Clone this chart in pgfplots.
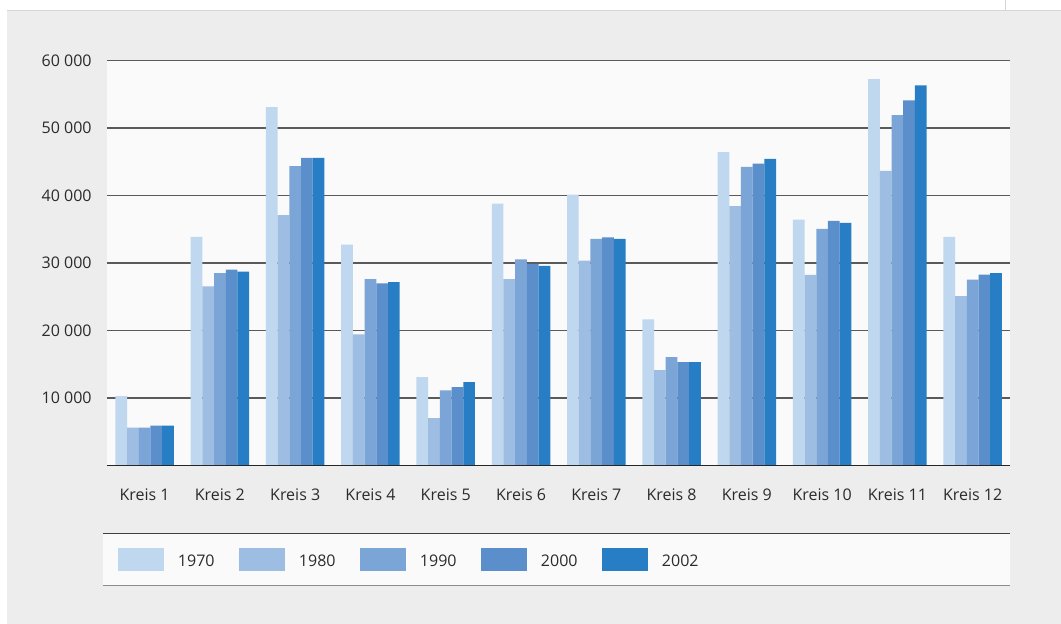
\documentclass[border=0pt]{standalone}
\usepackage{pgfplots}
\pgfplotsset{compat=1.18}
\usepackage{fontspec}
\setmainfont{Open Sans}
\definecolor{panel}{HTML}{EDEDED}
\definecolor{plotbg}{HTML}{FAFAFA}
\definecolor{topline}{HTML}{D6D6D6}
\definecolor{gridc}{HTML}{5A5A5A}
\definecolor{textc}{HTML}{2B2B2B}
\definecolor{c1970}{HTML}{BFD7EF}
\definecolor{c1980}{HTML}{9DBDE2}
\definecolor{c1990}{HTML}{7BA5D7}
\definecolor{c2000}{HTML}{5B8FCC}
\definecolor{c2002}{HTML}{277EC4}
\pgfplotsset{
  yr/.style={draw=none, fill=#1,
    legend image code/.code={\fill[fill=#1] (0pt,-4.5pt) rectangle (23pt,7pt);}},
}
\begin{document}
\begin{tikzpicture}
% background, in pixel units of the reference (1px = 0.5pt)
\begin{scope}[x=0.5pt,y=-0.5pt,shift={(-53.5pt,232.65pt)}]
\useasboundingbox (0,0) rectangle (1061,624);
\fill[white] (0,0) rectangle (1061,624);
\fill[panel] (7.5,10.5) rectangle (1061,624);
\draw[line width=0.75pt,topline] (7.5,10.5) -- (1061,10.5);
\draw[line width=0.6pt,topline] (1005.8,0) -- (1005.8,10.5);
\fill[plotbg] (107,60.7) rectangle (1010.3,465.3);
\fill[plotbg] (103,533.3) rectangle (1010.3,585.7);
\draw[line width=0.7pt,black!75] (103,533.3) -- (1010.3,533.3);
\draw[line width=0.7pt,black!45] (103,585.7) -- (1010.3,585.7);
\end{scope}

\begin{axis}[
  scale only axis, width=451.65pt, height=202.3pt,
  ybar=0pt, bar width=5.85pt,
  xmin=-0.5, xmax=11.5, ymin=0, ymax=60000,
  xtick={0,...,11},
  xticklabels={Kreis 1,Kreis 2,Kreis 3,Kreis 4,Kreis 5,Kreis 6,Kreis 7,Kreis 8,Kreis 9,Kreis 10,Kreis 11,Kreis 12},
  ytick={10000,20000,30000,40000,50000,60000},
  yticklabels={10 000,20 000,30 000,40 000,50 000,60 000},
  scaled y ticks=false,
  major tick length=0pt,
  axis line style={draw=none},
  ymajorgrids, grid style={line width=0.8pt,color=gridc},
  tick label style={font=\fontsize{8pt}{9.6pt}\selectfont, text=textc},
  yticklabel style={inner sep=0pt, xshift=-7.5pt},
  xticklabel style={inner sep=0pt, yshift=-11.5pt},
  legend columns=5,
  legend cell align=left,
  legend style={at={(axis description cs:0.01218,-0.2328)}, anchor=west,
    draw=none, fill=none, inner sep=0pt, outer sep=0pt,
    font=\fontsize{8pt}{9.6pt}\selectfont, text=textc,
    nodes={inner sep=0pt},
    /tikz/every odd column/.append style={column sep=7pt},
    /tikz/every even column/.append style={column sep=12.2pt}},
]
\addplot[yr=c1970] coordinates {(0,10250) (1,33870) (2,53130) (3,32740) (4,13090) (5,38810) (6,40150) (7,21630) (8,46440) (9,36440) (10,57260) (11,33860)};
\addplot[yr=c1980] coordinates {(0,5570) (1,26530) (2,37090) (3,19410) (4,7010) (5,27600) (6,30350) (7,14110) (8,38420) (9,28220) (10,43650) (11,25090)};
\addplot[yr=c1990] coordinates {(0,5570) (1,28510) (2,44350) (3,27600) (4,11110) (5,30520) (6,33560) (7,16040) (8,44260) (9,35050) (10,51930) (11,27520)};
\addplot[yr=c2000] coordinates {(0,5870) (1,29010) (2,45580) (3,26960) (4,11600) (5,29880) (6,33810) (7,15300) (8,44750) (9,36240) (10,54100) (11,28260)};
\addplot[yr=c2002] coordinates {(0,5870) (1,28720) (2,45580) (3,27160) (4,12350) (5,29580) (6,33560) (7,15300) (8,45450) (9,35940) (10,56330) (11,28510)};
\legend{1970,1980,1990,2000,2002}
\draw[line width=0.75pt,black!85] (rel axis cs:0,0) -- (rel axis cs:1,0);
\end{axis}
\end{tikzpicture}
\end{document}
